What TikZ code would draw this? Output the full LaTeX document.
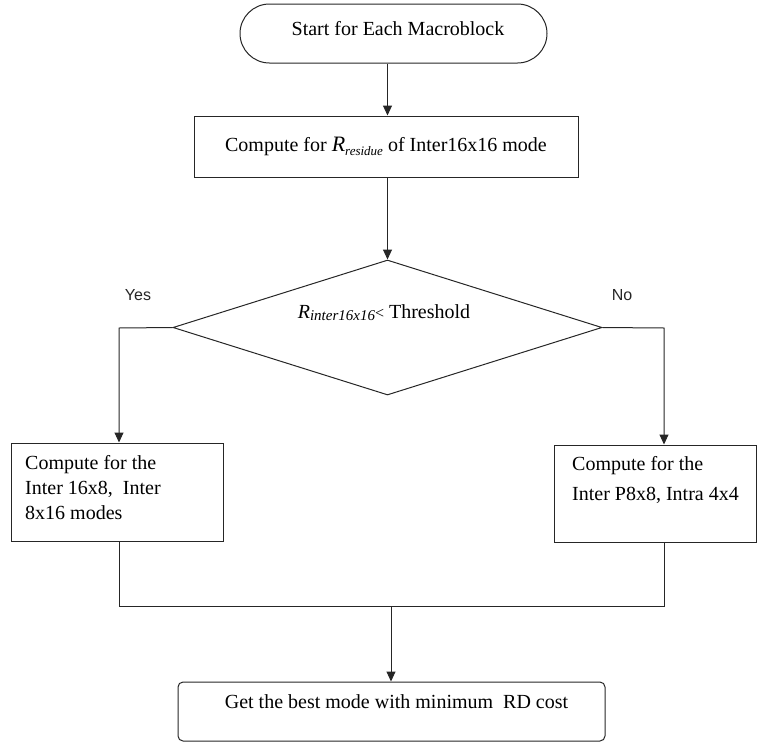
\documentclass[tikz,border=0pt]{standalone}
\usepackage{fontspec}
\setmainfont{Liberation Serif}
\newfontfamily\labelfont{Liberation Sans}
\usetikzlibrary{shapes.geometric,arrows.meta}

\begin{document}
\begin{tikzpicture}[x=1pt,y=-1pt,
  flow/.style={draw=black!85, line width=1pt},
  arr/.style={flow, -{Triangle[length=10pt,width=9pt]}},
  box/.style={draw=black!85, line width=1pt, inner sep=0pt},
  txt/.style={font=\fontsize{20}{25}\selectfont, inner sep=0pt},
  ans/.style={font=\labelfont\fontsize{16}{18}\selectfont, inner sep=0pt, text=black!85}]

\useasboundingbox (0,0) rectangle (758,742);

% start terminal
\node[box, rounded corners=29.5pt, minimum width=307pt, minimum height=59pt] (start) at (393.5,33.5) {};
\node[txt] (starttext) at (398,29) {Start for Each Macroblock};

% residue computation
\node[box, txt, minimum width=384pt, minimum height=61pt] (resid) at (386,146.5)
  {Compute for {\fontsize{22}{22}\selectfont\itshape R}\raisebox{-4pt}{\fontsize{13}{13}\selectfont\itshape residue} of Inter16x16 mode};

% decision
\node[box, diamond, minimum width=429pt, minimum height=135pt] (dec) at (387.5,327.5) {};
\node[txt] (dectext) at (384,313)
  {{\itshape R}\raisebox{-2pt}{\fontsize{15}{15}\selectfont\itshape inter16x16}{\fontsize{16}{16}\selectfont<} Threshold};
\node[ans] (yes) at (138,295) {Yes};
\node[ans] (no) at (622,295) {No};

% branch boxes
\node[box, minimum width=212pt, minimum height=98pt] (lbox) at (117,492) {};
\node[txt, align=left, anchor=west] (ltext) at (25,488)
  {Compute for the\\Inter 16x8,\ \ Inter\\8x16 modes};
\node[box, minimum width=202pt, minimum height=97pt] (rbox) at (655.5,493.5) {};
\node[txt, align=left, anchor=west, font=\fontsize{20}{30}\selectfont] (rtext) at (572,480)
  {Compute for the\\Inter P8x8,\ Intra 4x4};

% final step
\node[box, rounded corners=5pt, minimum width=427pt, minimum height=59pt] (best) at (391.5,711.5) {};
\node[txt] (besttext) at (396.5,702) {Get the best mode with minimum\ \ RD cost};

% routing points
\coordinate (ycorner) at (119,328);
\coordinate (ncorner) at (664,328);
\coordinate (lmerge) at (119,606);
\coordinate (rmerge) at (664,606);
\coordinate (join) at (391,606);

% connectors
\draw[arr] (start.south -| dec.north) -- (resid.north -| dec.north);
\draw[arr] (resid.south -| dec.north) -- (dec.north);
\draw[arr] (dec.west) -- (ycorner) -- (lbox.north -| ycorner);
\draw[arr] (dec.east) -- (ncorner) -- (rbox.north -| ncorner);
\draw[flow] (lbox.south -| ycorner) -- (lmerge) -- (rmerge) -- (rbox.south -| ncorner);
\draw[arr] (join) -- (best.north -| join);
\end{tikzpicture}
\end{document}
